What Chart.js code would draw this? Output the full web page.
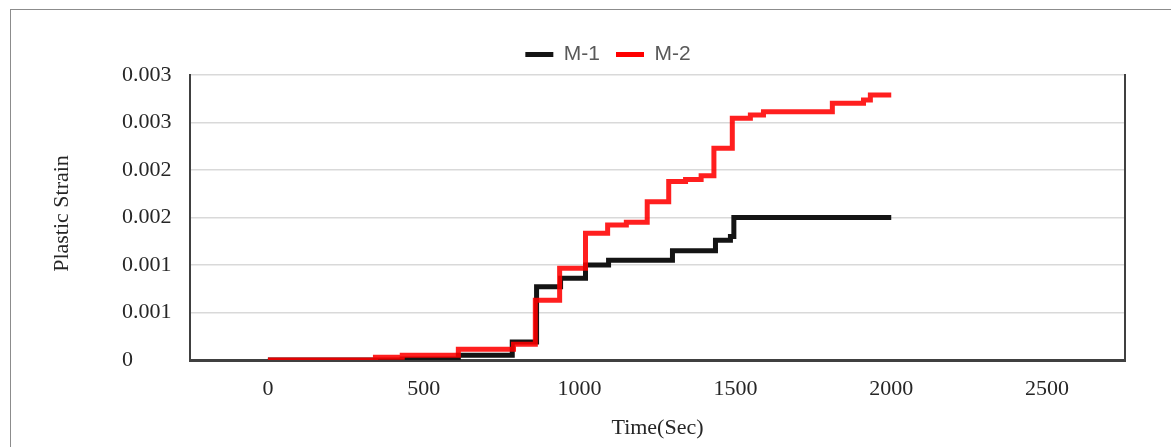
<!DOCTYPE html>
<html>
<head>
<meta charset="utf-8">
<title>Plastic strain vs time</title>
<script src="https://cdn.jsdelivr.net/npm/chart.js@4.4.1/dist/chart.umd.min.js"></script>
<style>
  html, body { margin: 0; padding: 0; background: #fff; }
  body { width: 1171px; height: 447px; overflow: hidden; position: relative; }
  #frame {
    position: absolute; left: 10px; top: 9px; width: 1300px; height: 600px;
    border-left: 1.5px solid #8c8c8c; border-top: 1.5px solid #8c8c8c;
  }
  #wrap { position: absolute; left: 0; top: 0; width: 1171px; height: 447px; }
</style>
</head>
<body>
<div id="frame"></div>
<div id="wrap"><canvas id="strainChart"></canvas></div>
<script>
// Step histories: at each time the strain jumps to the listed value
const timeM1   = [0, 431, 611, 784, 862, 939, 1019, 1093, 1298, 1436, 1484, 1495, 2000];
const strainM1 = [0, 0.00001, 0.00005, 0.00019, 0.00077, 0.00086, 0.00100, 0.00105, 0.00115, 0.00126, 0.00130, 0.00150, 0.00150];

const timeM2   = [0, 345, 431, 611, 788, 858, 936, 1019, 1090, 1150, 1217, 1286, 1340, 1390, 1431, 1490, 1548, 1590, 1811, 1911, 1933, 2000];
const strainM2 = [0, 0.00003, 0.00005, 0.000113, 0.000165, 0.00063, 0.000965, 0.001334, 0.00142, 0.00145, 0.001666, 0.00188, 0.0019, 0.00194, 0.00223, 0.002544, 0.002579, 0.002614, 0.002702, 0.002737, 0.00279, 0.00279];

const xTicks = [0, 500, 1000, 1500, 2000, 2500];
const yTicks = [0, 0.0005, 0.001, 0.0015, 0.002, 0.0025, 0.003];
const yTickLabels = ['0', '0.001', '0.001', '0.002', '0.002', '0.003', '0.003'];

const toPoints = (ts, vs) => ts.map((t, i) => ({ x: t, y: vs[i] }));

const serif = '"Liberation Serif", "Times New Roman", serif';
const axisColor = '#404040';
const textColor = '#262626';

// rotated caption left of the y tick labels
const yCaption = {
  id: 'yCaption',
  afterDraw(chart) {
    const { ctx, chartArea } = chart;
    ctx.save();
    ctx.translate(62, (chartArea.top + chartArea.bottom) / 2 - 4);
    ctx.rotate(-Math.PI / 2);
    ctx.font = '22px ' + serif;
    ctx.fillStyle = textColor;
    ctx.textAlign = 'center';
    ctx.textBaseline = 'middle';
    ctx.fillText('Plastic Strain', 0, 0);
    ctx.restore();
  }
};

new Chart(document.getElementById('strainChart'), {
  type: 'line',
  data: {
    datasets: [
      {
        label: 'M-1',
        data: toPoints(timeM1, strainM1),
        borderColor: '#141414',
        backgroundColor: '#141414',
        borderWidth: 5,
        stepped: 'before',
        pointRadius: 0,
        yAxisID: 'y',
        order: 1
      },
      {
        label: 'M-2',
        data: toPoints(timeM2, strainM2),
        borderColor: 'rgba(255, 0, 0, 0.88)',
        backgroundColor: '#ff0000',
        borderWidth: 5,
        stepped: 'before',
        pointRadius: 0,
        yAxisID: 'y',
        order: 0
      }
    ]
  },
  options: {
    responsive: true,
    maintainAspectRatio: false,
    animation: false,
    layout: { padding: { left: 91, right: 46, top: 28, bottom: 0 } },
    plugins: {
      tooltip: { enabled: false },
      legend: {
        position: 'top',
        labels: {
          boxWidth: 28,
          boxHeight: 5,
          padding: 16,
          color: '#595959',
          font: { family: '"Liberation Sans", Arial, sans-serif', size: 21 },
          sort: (a, b) => a.datasetIndex - b.datasetIndex,
          generateLabels: chart =>
            Chart.defaults.plugins.legend.labels.generateLabels(chart)
              .map(item => ({ ...item, lineWidth: 0, strokeStyle: item.fillStyle }))
        }
      }
    },
    scales: {
      x: {
        type: 'linear',
        min: -250,
        max: 2750,
        afterBuildTicks: s => { s.ticks = xTicks.map(v => ({ value: v })); },
        afterFit: s => { s.height = 87; },
        grid: { display: false },
        border: { color: axisColor, width: 3 },
        ticks: {
          color: textColor,
          font: { family: serif, size: 22 },
          padding: 8,
          maxRotation: 0,
          callback: v => String(v)
        },
        title: {
          display: true,
          text: 'Time(Sec)',
          color: textColor,
          font: { family: serif, size: 22 },
          padding: { top: 0, bottom: 6 }
        }
      },
      // empty spacer on the far left, keeps the caption column clear
      yGap: {
        position: 'left',
        weight: 1,
        min: 0,
        max: 1,
        afterFit: s => { s.width = 31; },
        grid: { display: false, drawTicks: false },
        border: { display: false },
        ticks: { display: false }
      },
      y: {
        position: 'left',
        weight: 0,
        min: 0,
        max: 0.003,
        afterBuildTicks: s => { s.ticks = yTicks.map(v => ({ value: v })); },
        afterFit: s => { s.width = 68; },
        grid: { color: '#d9d9d9', lineWidth: 1.5, drawTicks: false },
        border: { color: axisColor, width: 2 },
        ticks: {
          color: textColor,
          font: { family: serif, size: 22 },
          crossAlign: 'far',
          callback: (v, i) => yTickLabels[i]
        }
      },
      yRight: {
        position: 'right',
        min: 0,
        max: 1,
        afterFit: s => { s.width = 0; },
        grid: { display: false, drawTicks: false },
        border: { color: axisColor, width: 2 },
        ticks: { display: false }
      }
    }
  },
  plugins: [yCaption]
});
</script>
</body>
</html>
